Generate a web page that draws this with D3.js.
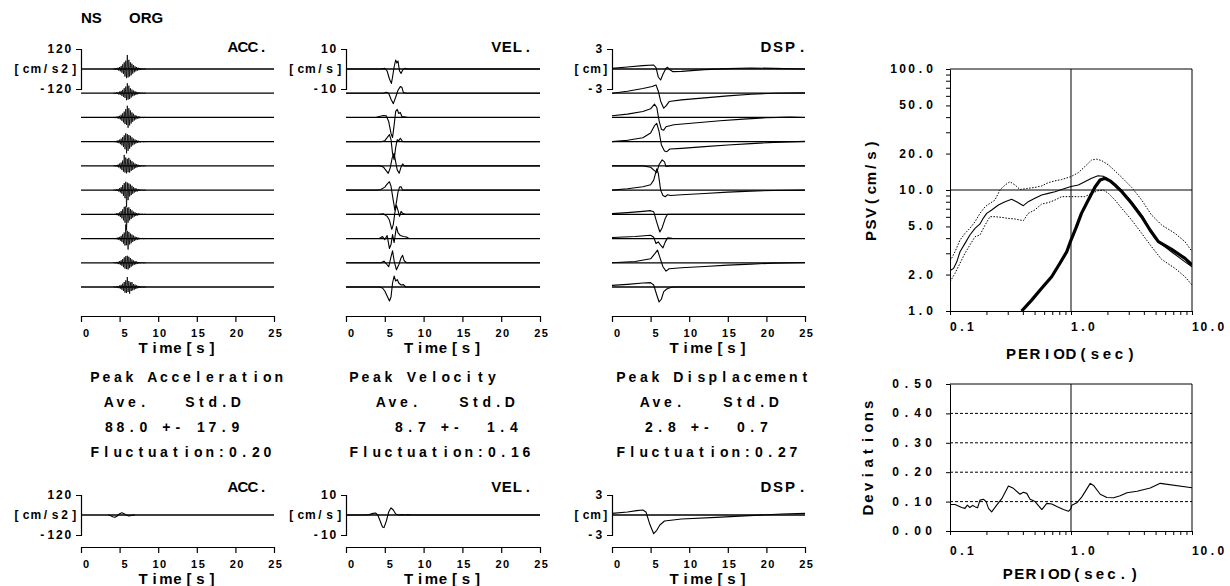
<!DOCTYPE html>
<html>
<head>
<meta charset="utf-8">
<script src="https://cdn.jsdelivr.net/npm/d3@7"></script>
<style>
  body { margin: 0; background: #fff; }
  svg { display: block; font-family: "Liberation Sans", Arial, sans-serif; font-weight: bold; }
</style>
</head>
<body>
<div id="chart"></div>
<script>
// ---- data ----
const TIME_TICKS = [0, 5, 10, 15, 20, 25];
const TRACE_IDS = [1, 2, 3, 4, 5, 6, 7, 8, 9, 10];

// acceleration traces (cm/s2), one sample every 0.1 s starting at 4.2 s
const ACC_T0 = 4.2, ACC_DT = 0.1;
const ACC_TRACES = [
  [2,-3,4,-4,6,-5,8,-10,12,-14,18,-22,28,-30,40,-45,50,-55,84,-50,55,-45,40,-38,32,-28,24,-20,16,-14,12,-10,8,-7,6,-5,4,-3,3,-2,1,-1,0],
  [1,-2,3,-3,5,-4,6,-8,10,-9,14,-16,20,-22,30,-28,40,-42,60,-38,45,-35,30,-26,22,-18,16,-14,12,-10,8,-7,6,-5,4,-3,3,-2,2,-1,1,-1,0],
  [2,-2,3,-4,4,-5,7,-8,10,-12,16,-20,25,-30,35,-40,50,-45,70,-62,55,-48,42,-36,30,-26,22,-18,14,-12,10,-8,7,-6,5,-4,3,-3,2,-2,1,-1,0],
  [1,-2,3,-3,5,-6,8,-9,12,-15,18,-22,28,-32,38,-45,50,-70,45,-55,40,-42,35,-30,26,-22,18,-16,13,-11,9,-8,6,-5,4,-4,3,-2,2,-1,1,-1,0],
  [2,-2,4,-3,5,-6,8,-10,14,-16,20,-25,32,-35,66,-40,50,-45,42,-38,48,-40,36,-30,28,-24,20,-17,14,-12,10,-8,7,-6,5,-4,3,-3,2,-2,1,-1,0],
  [1,-2,3,-4,5,-5,7,-9,12,-14,18,-22,30,-35,42,-48,50,-100,45,-60,40,-38,34,-30,26,-22,18,-15,12,-10,9,-8,6,-5,4,-3,3,-2,2,-1,1,-1,0],
  [2,-3,3,-4,6,-5,8,-10,12,-16,20,-24,30,-36,45,-50,48,-96,40,-50,42,-36,32,-28,24,-20,16,-14,12,-10,8,-7,6,-5,4,-3,3,-2,2,-1,1,-1,0],
  [1,-2,3,-3,4,-5,7,-8,10,-13,16,-20,26,-30,36,-42,84,-40,46,-66,40,-36,30,-28,24,-20,18,-15,12,-10,9,-7,6,-5,4,-3,3,-2,2,-1,1,-1,0],
  [2,-2,3,-3,4,-5,6,-8,10,-12,15,-18,22,-26,32,-35,40,-38,42,-40,36,-32,28,-24,20,-17,14,-12,10,-9,8,-6,5,-4,4,-3,2,-2,2,-1,1,-1,0],
  [1,-1,2,-3,4,-4,6,-7,9,-10,13,-16,20,-24,30,-34,40,-36,60,-30,36,-40,28,-24,30,-20,18,-16,14,-12,10,-8,7,-6,5,-4,3,-3,2,-2,1,-1,0]
];
const ACC_BOTTOM = [[3.5,0],[3.8,-3],[4.1,-10],[4.4,-14],[4.7,-6],[5.0,8],[5.3,13],[5.6,8],[5.9,-2],[6.2,-6],[6.5,-3],[6.8,0],[7.0,0]];

// velocity traces (cm/s) as [time, value]
const VEL_TRACES = [
  [[0,0],[4.5,0],[5.0,0.3],[5.3,-1],[5.6,-5],[5.85,-7.2],[6.0,-4],[6.2,1],[6.4,4.5],[6.55,3.0],[6.7,4.0],[6.9,-1],[7.1,-2.2],[7.3,-0.5],[7.6,0.3],[8,0],[25,0]],
  [[0,0],[4.8,0],[5.2,0.5],[5.5,0],[5.8,-3],[6.1,-5.2],[6.4,-2],[6.7,1.5],[7.0,3.3],[7.2,3.0],[7.4,0.3],[7.8,0],[25,0]],
  [[0,0],[3.8,0],[4.3,0.5],[4.8,1.0],[5.2,0.8],[5.5,-2],[5.8,-8],[6.0,-10],[6.2,-4],[6.4,3],[6.6,4],[6.8,2],[7.0,2.5],[7.2,0.5],[7.5,0.3],[8,0],[25,0]],
  [[0,0],[4.5,0],[5.0,0.5],[5.3,2],[5.6,3.5],[5.8,1],[6.0,-6],[6.2,-9],[6.4,-3],[6.6,1],[6.8,0.5],[7.0,1.7],[7.3,0],[25,0]],
  [[0,0],[4.3,0],[4.8,-0.5],[5.2,-2.5],[5.45,-3.7],[5.7,-1],[5.95,4],[6.2,6.3],[6.4,2],[6.6,-2],[6.85,-3.7],[7.1,-0.5],[7.3,1],[7.5,0],[25,0]],
  [[0,0],[4.0,0],[4.5,0.3],[5.0,1.5],[5.3,3],[5.6,4.2],[5.8,2],[6.0,-3],[6.3,-10],[6.5,-6],[6.7,-1],[6.9,1.5],[7.1,1.7],[7.3,0],[25,0]],
  [[0,0],[4.3,0],[4.8,0.3],[5.3,-1],[5.6,-3],[5.9,-7.5],[6.1,-5],[6.3,1],[6.5,4.5],[6.7,2],[6.9,-1],[7.1,1.5],[7.3,0.5],[7.6,0],[25,0]],
  [[0,0],[4.3,0],[4.7,1.0],[5.0,-0.5],[5.3,1.5],[5.6,-5],[5.8,-3],[6.0,2],[6.2,-2],[6.5,6],[6.7,3],[7.0,1.5],[7.4,1.0],[7.8,0.8],[8.1,0],[25,0]],
  [[0,0],[4.5,0],[4.9,0.8],[5.2,-0.5],[5.5,-2],[5.8,3],[6.0,6],[6.2,1],[6.5,-3.5],[6.8,-1],[7.1,2.5],[7.3,3.7],[7.5,1],[7.8,0],[25,0]],
  [[0,0],[4.3,0],[4.7,-0.5],[5.0,-2],[5.3,-4.5],[5.6,-7],[5.8,-5],[6.0,2],[6.2,5.5],[6.4,3],[6.6,3.7],[6.8,2],[7.1,1],[7.4,1.2],[7.7,0],[25,0]]
];
const VEL_BOTTOM = [[0,0],[2.5,0],[3.0,0.2],[3.5,0.8],[3.8,1.0],[4.1,0],[4.4,-3],[4.7,-6],[4.9,-6.3],[5.2,-3],[5.5,1.5],[5.8,3.6],[6.1,2.5],[6.4,0.5],[6.8,0],[7.2,0.2],[7.6,0],[8.0,0.2],[8.4,0],[25,0]];

// displacement traces (cm) as [time, value]
const DSP_TRACES = [
  [[0,0.1],[2,0.3],[4,0.5],[5.4,0.6],[5.7,0.2],[6.0,-1.2],[6.3,-1.65],[6.6,-0.8],[7.0,0.1],[7.2,0.25],[7.5,-0.1],[7.9,-0.4],[9,-0.35],[12,-0.1],[15,0.05],[18,0.15],[21,0.1],[25,0]],
  [[0,0],[2,0.3],[4,0.7],[5.2,1.0],[5.7,1.25],[6.0,0.3],[6.3,-1.2],[6.7,-2.25],[7.0,-1.9],[7.4,-1.25],[9,-1.0],[12,-0.7],[15,-0.4],[18,-0.15],[21,0],[25,0.05]],
  [[0,0.25],[2,0.5],[4,0.9],[5.0,1.3],[5.5,2.0],[5.8,1.5],[6.1,-0.5],[6.4,-1.8],[6.7,-1.9],[7.0,-1.4],[8,-1.1],[11,-0.8],[14,-0.5],[17,-0.25],[20,-0.05],[23,0.05],[25,0]],
  [[0,0],[2,0.2],[4,0.6],[5.0,1.3],[5.5,2.4],[5.8,2.75],[6.1,1.5],[6.4,-0.5],[6.8,-1.4],[7.1,-1.5],[7.5,-1.1],[9,-1.0],[12,-0.75],[15,-0.5],[18,-0.3],[21,-0.1],[25,0.05]],
  [[0,0],[4,0],[5.0,-0.2],[5.5,-0.7],[5.8,-1.0],[6.1,0.2],[6.5,0.9],[6.8,0.6],[7.0,-0.1],[7.5,0],[25,0]],
  [[0,0],[2,0.2],[4,0.5],[5.0,0.8],[5.4,1.5],[5.8,3.2],[6.0,2.5],[6.3,0],[6.6,-0.8],[6.9,-1.0],[7.2,-0.7],[7.6,-0.8],[9,-0.7],[12,-0.5],[15,-0.3],[18,-0.15],[21,-0.05],[25,0]],
  [[0,0.1],[2,0.25],[4,0.45],[5.0,0.55],[5.4,0.4],[5.8,-1.2],[6.2,-2.65],[6.5,-2.0],[6.9,-0.6],[7.2,0],[25,0]],
  [[0,0.15],[3,0.3],[5.0,0.5],[5.4,0.2],[5.7,-0.75],[6.0,-0.5],[6.3,-1.0],[6.6,-1.4],[6.9,-0.5],[7.2,0.1],[7.8,0.05],[25,0]],
  [[0,0],[3,0.2],[5.0,0.6],[5.5,1.3],[5.9,1.9],[6.2,0.8],[6.6,-0.6],[7.0,-1.25],[7.4,-0.9],[9,-0.75],[12,-0.55],[15,-0.35],[18,-0.2],[21,-0.05],[25,0.05]],
  [[0,0.25],[2,0.4],[4,0.6],[5.0,0.65],[5.4,0.3],[5.8,-1.2],[6.1,-2.25],[6.4,-1.8],[6.7,-0.7],[7.1,-0.3],[7.5,-0.1],[8,0],[25,0]]
];
const DSP_BOTTOM = [[0,0.25],[2,0.45],[3.2,0.65],[4.0,0.75],[4.4,0.45],[4.9,-1.4],[5.4,-2.8],[5.8,-2.3],[6.2,-1.5],[6.8,-0.9],[9,-0.6],[13.5,-0.35],[17.8,-0.1],[22,0.15],[25,0.25]];

// peak statistics
const STAT_NAMES = ['Peak Acceleration', 'Peak Velocity', 'Peak Displacement'];
const STAT_AVE = [88.0, 8.7, 2.8];
const STAT_STD = [17.9, 1.4, 0.7];
const STAT_FLUCT = [0.20, 0.16, 0.27];

// pseudo velocity response spectra, [period s, PSV cm/s]
const PSV_MEAN = [[0.1,2.15],[0.102,2.18],[0.107,2.25],[0.114,2.56],[0.121,3.09],[0.133,3.62],[0.146,4.25],[0.161,4.82],[0.177,5.24],[0.188,5.83],[0.201,6.41],[0.221,6.84],[0.251,7.52],[0.285,8.01],[0.323,8.37],[0.355,8.01],[0.404,7.42],[0.443,8.01],[0.503,8.53],[0.572,9.10],[0.649,9.38],[0.737,9.68],[0.837,10.1],[1.0,10.7],[1.15,11.0],[1.30,11.7],[1.48,12.5],[1.67,13.1],[1.85,13.0],[2.04,12.1],[2.31,11.0],[2.63,9.87],[3.17,8.0],[3.84,6.21],[4.36,4.98],[4.93,3.99],[5.26,3.74],[6.75,3.09],[8.7,2.56],[10,2.32]];
const PSV_UPPER = [[0.1,2.6],[0.102,2.67],[0.110,3.09],[0.121,3.86],[0.133,4.38],[0.146,4.82],[0.161,5.47],[0.177,6.41],[0.195,7.28],[0.214,7.76],[0.235,8.26],[0.259,10.0],[0.285,11.0],[0.313,11.7],[0.345,11.0],[0.379,10.1],[0.430,10.3],[0.503,10.5],[0.572,10.8],[0.649,11.5],[0.737,11.9],[0.837,12.2],[1.0,12.9],[1.15,13.9],[1.30,15.6],[1.48,17.7],[1.63,18.0],[1.79,17.5],[2.04,16.1],[2.31,14.4],[2.63,12.7],[3.17,10.5],[3.84,8.26],[4.63,6.21],[5.61,5.14],[7.24,4.38],[8.75,3.74],[10,3.1]];
const PSV_LOWER = [[0.1,1.75],[0.102,1.80],[0.110,2.05],[0.121,2.48],[0.133,3.0],[0.146,3.51],[0.161,4.11],[0.177,4.25],[0.195,5.14],[0.214,6.02],[0.235,6.02],[0.267,5.94],[0.303,5.83],[0.345,5.76],[0.404,5.58],[0.443,6.41],[0.503,6.84],[0.572,7.66],[0.649,7.86],[0.737,8.26],[0.837,8.81],[1.0,8.81],[1.15,8.81],[1.30,8.81],[1.48,9.38],[1.67,9.87],[1.85,10.0],[2.04,9.38],[2.31,8.26],[2.63,7.05],[3.17,5.65],[3.84,4.38],[4.63,3.40],[5.61,2.67],[7.24,2.25],[8.75,1.92],[10,1.64]];
const PSV_TARGET = [[0.391,1.0],[0.473,1.23],[0.572,1.54],[0.692,1.92],[0.810,2.48],[0.922,3.09],[1.0,3.86],[1.11,4.98],[1.22,6.41],[1.39,8.26],[1.58,10.6],[1.74,12.1],[1.91,12.5],[2.10,11.9],[2.31,11.0],[2.63,9.68],[3.17,7.76],[3.84,6.02],[4.5,4.67],[5.27,3.74],[6.79,3.23],[8.75,2.72],[10,2.40]];
const PSV_LABELS = [1, 2, 5, 10, 20, 50, 100];
const PERIOD_LABELS = [0.1, 1, 10];

// deviations, [period s, deviation]
const DEV = [[0.100,0.09],[0.110,0.09],[0.125,0.08],[0.133,0.077],[0.139,0.088],[0.146,0.08],[0.154,0.087],[0.162,0.082],[0.169,0.079],[0.177,0.105],[0.189,0.108],[0.199,0.1],[0.208,0.077],[0.221,0.065],[0.243,0.088],[0.268,0.11],[0.304,0.153],[0.334,0.145],[0.379,0.125],[0.404,0.132],[0.431,0.128],[0.459,0.108],[0.505,0.10],[0.574,0.073],[0.631,0.094],[0.694,0.092],[0.763,0.083],[0.867,0.073],[0.953,0.067],[1.0,0.076],[1.016,0.088],[1.117,0.096],[1.230,0.116],[1.442,0.162],[1.536,0.155],[1.743,0.125],[1.98,0.114],[2.25,0.113],[2.55,0.12],[2.90,0.13],[3.51,0.135],[4.52,0.146],[5.47,0.162],[10,0.147]];
const DEV_TICKS = [0, 0.1, 0.2, 0.3, 0.4, 0.5];

// ---- layout ----
const W = 1230, H = 586;
const PANELS = [
  { title: 'ACC.', unit: '[cm/s2]', max: 120, x0: 81, x1: 274, titleX: 268, titleCell: 10 },
  { title: 'VEL.', unit: '[cm/s]', max: 10, x0: 346, x1: 540, titleX: 533, titleCell: 10.5 },
  { title: 'DSP.', unit: '[cm]', max: 3, x0: 612, x1: 805, titleX: 808, titleCell: 12 }
];
const STAT_COL = [89, 348, 615];
const AVE_DX = [14, 27, 24], STD_DX = [95, 110, 107], VAL_DX = [14, 45, 28];
const AMP = 20;          // half height of one trace band, px
const TOP_AXIS_Y = 316, BOTTOM_BASE = 515, BOTTOM_AXIS_Y = 547;

const svg = d3.select('#chart').append('svg')
  .attr('width', W)
  .attr('height', H)
  .attr('viewBox', `0 0 ${W} ${H}`);

const traceY = d3.scalePoint(TRACE_IDS, [69, 287]);

// text drawn in fixed-width cells, like the original plotter font
function monoText(sel, str, x, y, cell, anchor = 'start', size = 14) {
  const n = str.length;
  const left = anchor === 'start' ? x : anchor === 'end' ? x - n * cell : x - n * cell / 2;
  const xs = Array.from(str, (c, i) => (left + cell * (i + 0.5)).toFixed(1));
  return sel.append('text')
    .attr('x', xs.join(' '))
    .attr('y', y)
    .attr('text-anchor', 'middle')
    .attr('dominant-baseline', 'central')
    .attr('font-size', size)
    .text(str.replace(/ /g, '\u00a0'));
}

const line = (x, y) => d3.line().x(d => x(d[0])).y(d => y(d[1]));

function drawTimeAxis(g, x, axisY) {
  g.append('g')
    .attr('transform', `translate(0,${axisY})`)
    .call(d3.axisBottom(x).tickValues(TIME_TICKS).tickSize(6).tickSizeOuter(0))
    .call(a => a.attr('font-family', null).attr('font-size', 11))
    .call(a => a.selectAll('.tick line').attr('stroke-width', 1.2))
    .call(a => a.select('.domain').attr('stroke-width', 1.2))
    .call(a => a.selectAll('text')
      .attr('text-anchor', 'end').attr('x', 9).attr('y', 17).attr('dy', null)
      .attr('dominant-baseline', 'central').attr('letter-spacing', 1.5));
  monoText(g, 'Time[s]', (x.range()[0] + x.range()[1]) / 2, axisY + 31, 11.5, 'middle', 15);
}

function drawBracket(g, p, y) {
  g.append('g')
    .attr('transform', `translate(${p.x0},0)`)
    .call(d3.axisLeft(y).tickValues([]).tickSizeOuter(5))
    .select('.domain').attr('stroke-width', 1.2);
  monoText(g, String(p.max), p.x0 - 9, y(p.max), 8.5, 'end', 12);
  monoText(g, p.unit, p.x0 - 2, y(0), 9.6, 'end', 12);
  monoText(g, String(-p.max), p.x0 - 9, y(-p.max), 8.5, 'end', 12);
}

function drawTrace(g, x, y, data, width) {
  g.append('line')
    .attr('x1', x(0)).attr('x2', x(25))
    .attr('y1', y(0)).attr('y2', y(0))
    .attr('stroke', '#000').attr('stroke-width', 1.3);
  g.append('path')
    .datum(data)
    .attr('d', line(x, y))
    .attr('fill', 'none')
    .attr('stroke', '#000')
    .attr('stroke-width', width)
    .attr('stroke-linejoin', 'round');
}

const accPairs = ACC_TRACES.map(tr => tr.map((v, i) => [ACC_T0 + i * ACC_DT, v]));
const TOP_DATA = [accPairs, VEL_TRACES, DSP_TRACES];
const BOTTOM_DATA = [ACC_BOTTOM, VEL_BOTTOM, DSP_BOTTOM];

// NS / ORG header
svg.append('text').attr('x', 81).attr('y', 17).attr('dominant-baseline', 'central').attr('font-size', 15).text('NS');
svg.append('text').attr('x', 129).attr('y', 17).attr('dominant-baseline', 'central').attr('font-size', 15).text('ORG');

PANELS.forEach((p, k) => {
  const x = d3.scaleLinear([0, 25], [p.x0, p.x1]);

  // top stacked traces
  const top = svg.append('g');
  monoText(top, p.title, p.titleX, 46, p.titleCell, 'end', 15);
  TOP_DATA[k].forEach((tr, i) => {
    const base = traceY(TRACE_IDS[i]);
    const y = d3.scaleLinear([-p.max, p.max], [base + AMP, base - AMP]);
    drawTrace(top, x, y, tr, k === 0 ? 0.8 : 1.1);
    if (i === 0) drawBracket(top, p, y);
  });
  drawTimeAxis(top, x, TOP_AXIS_Y);

  // statistics block
  const st = svg.append('g');
  const col = STAT_COL[k];
  monoText(st, STAT_NAMES[k], col, 377, 11.5);
  monoText(st, 'Ave.', col + AVE_DX[k], 402, 11.5);
  monoText(st, 'Std.D', col + STD_DX[k], 402, 11.5);
  const val = `${STAT_AVE[k].toFixed(1)} +- ${STAT_STD[k].toFixed(1).padStart(4)}`;
  monoText(st, val, col + VAL_DX[k], 427, 11.5);
  monoText(st, `Fluctuation:${STAT_FLUCT[k].toFixed(2)}`, col, 452, 11.5);

  // bottom single trace
  const bot = svg.append('g');
  const yb = d3.scaleLinear([-p.max, p.max], [BOTTOM_BASE + AMP, BOTTOM_BASE - AMP]);
  monoText(bot, p.title, p.titleX, 486, p.titleCell, 'end', 15);
  drawTrace(bot, x, yb, BOTTOM_DATA[k], 1.1);
  drawBracket(bot, p, yb);
  drawTimeAxis(bot, x, BOTTOM_AXIS_Y);
});

// ---- PSV spectrum ----
const px = d3.scaleLog([0.1, 10], [950, 1192]);
const py = d3.scaleLog([1, 100], [311, 69]);
const psv = svg.append('g');

psv.append('g')
  .attr('transform', `translate(${px(0.1)},0)`)
  .call(d3.axisLeft(py).tickValues(py.ticks()).tickSize(4).tickSizeOuter(0).tickFormat(''));
psv.append('g')
  .attr('transform', `translate(0,${py(1)})`)
  .call(d3.axisBottom(px).tickValues(px.ticks()).tickSize(4).tickSizeOuter(0).tickFormat(''));
psv.append('line').attr('x1', px(0.1)).attr('x2', px(10)).attr('y1', py(100)).attr('y2', py(100)).attr('stroke', '#000');
psv.append('line').attr('x1', px(10)).attr('x2', px(10)).attr('y1', py(1)).attr('y2', py(100)).attr('stroke', '#000');
psv.append('line').attr('x1', px(1)).attr('x2', px(1)).attr('y1', py(1)).attr('y2', py(100)).attr('stroke', '#000');
psv.append('line').attr('x1', px(0.1)).attr('x2', px(10)).attr('y1', py(10)).attr('y2', py(10)).attr('stroke', '#000');

PSV_LABELS.forEach(v => monoText(psv, v.toFixed(1), 934, py(v), 9, 'end', 12));
PERIOD_LABELS.forEach(v => monoText(psv, v.toFixed(1), px(v) - 1, 327, 8.5, 'start', 12));
monoText(psv, 'PERIOD(sec)', px(1), 353, 12, 'middle', 15);
monoText(psv.append('g').attr('transform', `translate(870,${py(10)}) rotate(-90)`), 'PSV(cm/s)', 0, 0, 11.5, 'middle', 15);

psv.append('clipPath').attr('id', 'psv-clip')
  .append('rect').attr('x', px(0.1)).attr('y', py(100)).attr('width', px(10) - px(0.1)).attr('height', py(1) - py(100));
const curves = psv.append('g').attr('clip-path', 'url(#psv-clip)');
[
  { data: PSV_UPPER, width: 1, dash: '1.5,1.5' },
  { data: PSV_LOWER, width: 1, dash: '1.5,1.5' },
  { data: PSV_MEAN, width: 1.1, dash: null },
  { data: PSV_TARGET, width: 3.2, dash: null }
].forEach(s => {
  curves.append('path')
    .datum(s.data)
    .attr('d', line(px, py))
    .attr('fill', 'none')
    .attr('stroke', '#000')
    .attr('stroke-width', s.width)
    .attr('stroke-dasharray', s.dash)
    .attr('stroke-linejoin', 'round');
});

// ---- deviations ----
const dy = d3.scaleLinear([0, 0.5], [531, 384]);
const dev = svg.append('g');
dev.append('g')
  .attr('transform', `translate(${px(0.1)},0)`)
  .call(d3.axisLeft(dy).tickValues(DEV_TICKS).tickSize(4).tickSizeOuter(0).tickFormat(''));
dev.append('g')
  .attr('transform', `translate(0,${dy(0)})`)
  .call(d3.axisBottom(px).tickValues(px.ticks()).tickSize(4).tickSizeOuter(0).tickFormat(''));
dev.selectAll('.grid')
  .data(DEV_TICKS.slice(1, -1))
  .join('line')
  .attr('x1', px(0.1)).attr('x2', px(10))
  .attr('y1', d => dy(d)).attr('y2', d => dy(d))
  .attr('stroke', '#000').attr('stroke-dasharray', '3,2');
dev.append('line').attr('x1', px(0.1)).attr('x2', px(10)).attr('y1', dy(0.5)).attr('y2', dy(0.5)).attr('stroke', '#000');
dev.append('line').attr('x1', px(10)).attr('x2', px(10)).attr('y1', dy(0)).attr('y2', dy(0.5)).attr('stroke', '#000');
dev.append('line').attr('x1', px(1)).attr('x2', px(1)).attr('y1', dy(0)).attr('y2', dy(0.5)).attr('stroke', '#000');

DEV_TICKS.forEach(v => monoText(dev, v.toFixed(2), 934, dy(v), 11, 'end', 12));
PERIOD_LABELS.forEach(v => monoText(dev, v.toFixed(1), px(v) - 1, 551, 8.5, 'start', 12));
monoText(dev, 'PERIOD(sec.)', px(1), 573, 11.5, 'middle', 15);
monoText(dev.append('g').attr('transform', `translate(867,${dy(0.25)}) rotate(-90)`), 'Deviations', 0, 0, 11.7, 'middle', 15);

dev.append('path')
  .datum(DEV)
  .attr('d', line(px, dy))
  .attr('fill', 'none')
  .attr('stroke', '#000')
  .attr('stroke-width', 1.1)
  .attr('stroke-linejoin', 'round');
</script>
</body>
</html>
